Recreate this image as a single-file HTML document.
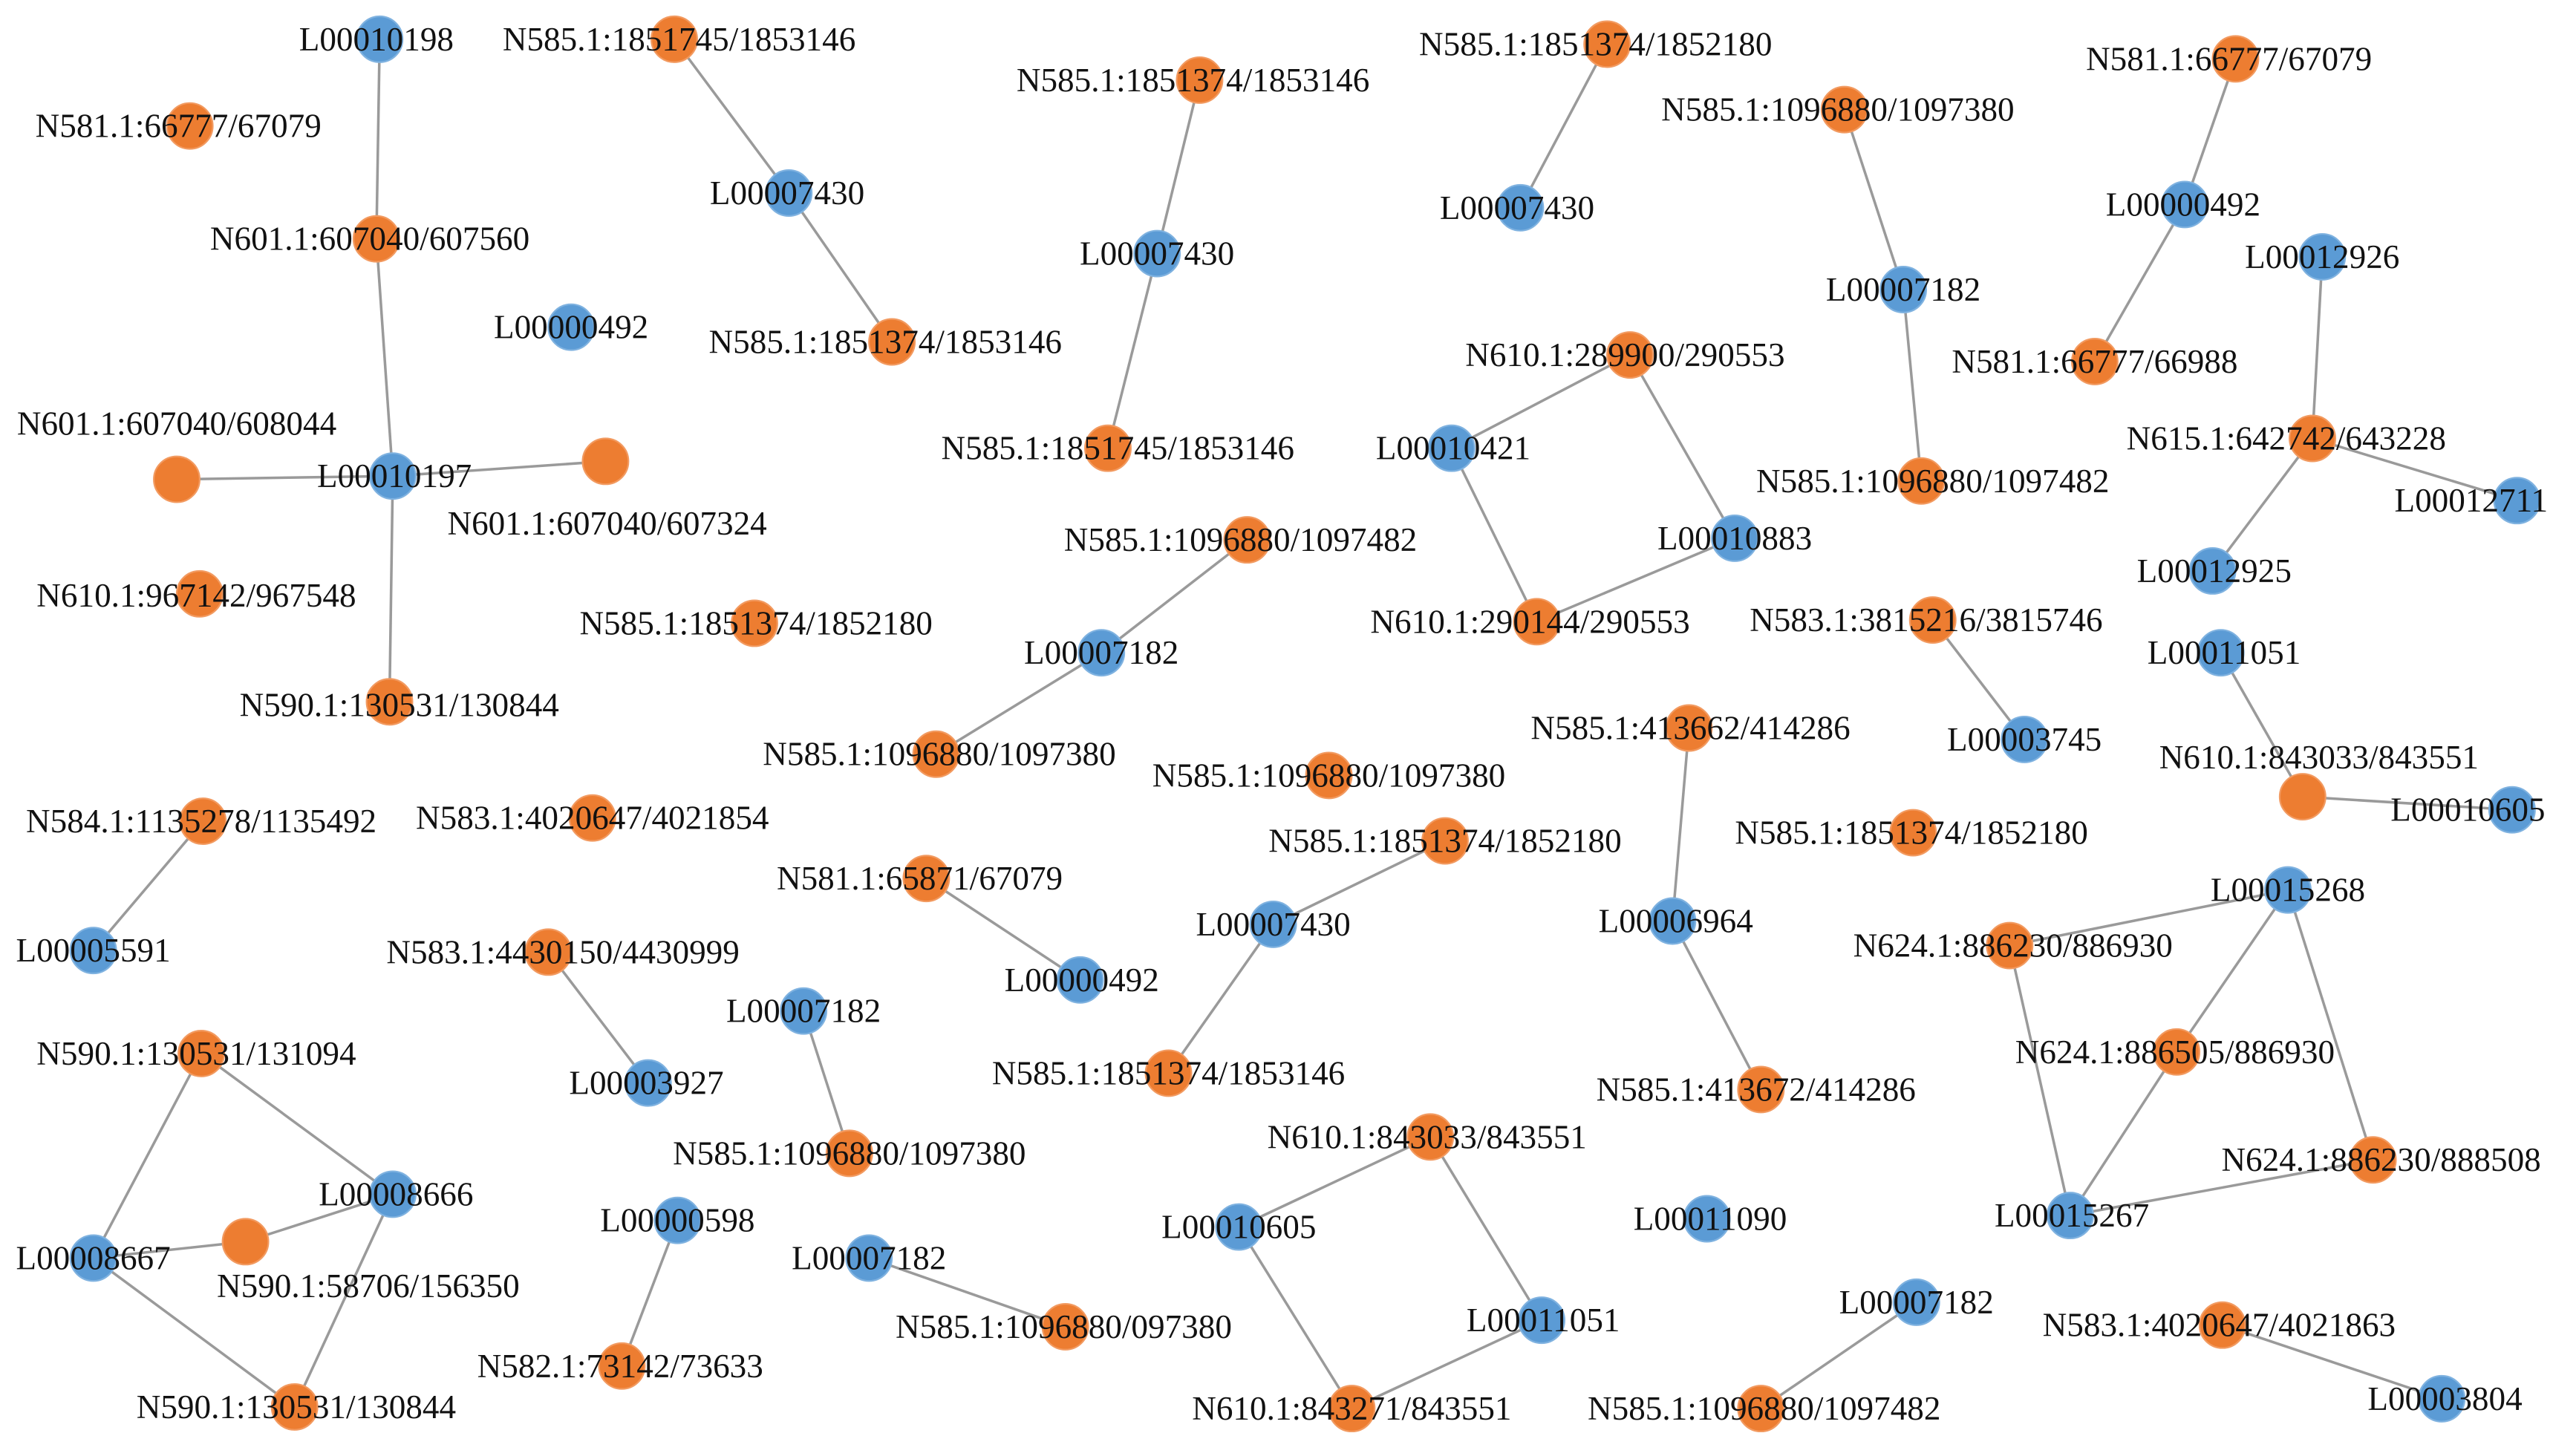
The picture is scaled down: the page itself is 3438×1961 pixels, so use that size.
<!DOCTYPE html>
<html><head><meta charset="utf-8"><style>
html,body{margin:0;padding:0;background:#fff;}
svg{display:block;}
text{font-family:"Liberation Serif",serif;font-size:20.5px;fill:#111;text-anchor:middle;dominant-baseline:central;}
.e{stroke:#9a9a9a;stroke-width:1.6;fill:none;}
.b{fill:#5b9bd5;stroke:#7fb2e0;stroke-width:1;}
.o{fill:#ed7d31;stroke:#f29a60;stroke-width:1;}
</style></head><body>
<svg width="3438" height="1961" viewBox="0 0 1560 890" preserveAspectRatio="none" xmlns="http://www.w3.org/2000/svg">
<g class="e">
<line x1="232" y1="24" x2="230" y2="146"/><line x1="230" y1="146" x2="240" y2="291"/>
<line x1="108" y1="293" x2="240" y2="291"/><line x1="240" y1="291" x2="370" y2="282"/>
<line x1="240" y1="291" x2="238" y2="429"/>
<line x1="412" y1="24" x2="482" y2="118"/><line x1="482" y1="118" x2="545" y2="209"/>
<line x1="733" y1="49" x2="707" y2="155"/><line x1="707" y1="155" x2="677" y2="274"/>
<line x1="982" y1="27" x2="929" y2="127"/>
<line x1="1127" y1="67" x2="1163" y2="177"/><line x1="1163" y1="177" x2="1174" y2="294"/>
<line x1="1366" y1="36" x2="1335" y2="125"/><line x1="1335" y1="125" x2="1280" y2="221"/>
<line x1="1419" y1="157" x2="1413" y2="268"/><line x1="1413" y1="268" x2="1538" y2="306"/><line x1="1413" y1="268" x2="1352" y2="349"/>
<line x1="996" y1="217" x2="887" y2="274"/><line x1="996" y1="217" x2="1060" y2="329"/><line x1="887" y1="274" x2="939" y2="380"/><line x1="939" y1="380" x2="1060" y2="329"/>
<line x1="762" y1="330" x2="673" y2="399"/><line x1="673" y1="399" x2="572" y2="461"/>
<line x1="1181" y1="379" x2="1237" y2="452"/>
<line x1="1357" y1="399" x2="1407" y2="487"/><line x1="1407" y1="487" x2="1535" y2="495"/>
<line x1="1032" y1="445" x2="1022" y2="563"/><line x1="1022" y1="563" x2="1076" y2="666"/>
<line x1="124" y1="502" x2="57" y2="581"/>
<line x1="566" y1="537" x2="660" y2="599"/>
<line x1="883" y1="514" x2="778" y2="565"/><line x1="778" y1="565" x2="714" y2="656"/>
<line x1="335" y1="582" x2="396" y2="662"/>
<line x1="491" y1="618" x2="519" y2="705"/>
<line x1="1398" y1="544" x2="1228" y2="578"/><line x1="1398" y1="544" x2="1330" y2="643"/><line x1="1398" y1="544" x2="1450" y2="709"/>
<line x1="1228" y1="578" x2="1265" y2="743"/><line x1="1330" y1="643" x2="1265" y2="743"/><line x1="1265" y1="743" x2="1450" y2="709"/>
<line x1="123" y1="644" x2="240" y2="730"/><line x1="123" y1="644" x2="57" y2="769"/><line x1="150" y1="759" x2="240" y2="730"/>
<line x1="57" y1="769" x2="180" y2="860"/><line x1="240" y1="730" x2="180" y2="860"/><line x1="57" y1="769" x2="150" y2="759"/>
<line x1="414" y1="746" x2="380" y2="835"/>
<line x1="531" y1="769" x2="651" y2="811"/>
<line x1="874" y1="695" x2="757" y2="750"/><line x1="874" y1="695" x2="942" y2="807"/><line x1="757" y1="750" x2="826" y2="861"/><line x1="826" y1="861" x2="942" y2="807"/>
<line x1="1171" y1="796" x2="1076" y2="861"/>
<line x1="1358" y1="810" x2="1492" y2="855"/>
</g>
<g>
<circle class="b" cx="232" cy="24" r="14"/><circle class="o" cx="116" cy="77" r="14"/><circle class="o" cx="230" cy="146" r="14"/>
<circle class="b" cx="240" cy="291" r="14"/><circle class="o" cx="108" cy="293" r="14"/><circle class="o" cx="370" cy="282" r="14"/>
<circle class="o" cx="122" cy="363" r="14"/><circle class="o" cx="238" cy="429" r="14"/>
<circle class="o" cx="412" cy="24" r="14"/><circle class="b" cx="482" cy="118" r="14"/><circle class="o" cx="545" cy="209" r="14"/>
<circle class="b" cx="349" cy="200" r="14"/>
<circle class="o" cx="733" cy="49" r="14"/><circle class="b" cx="707" cy="155" r="14"/><circle class="o" cx="677" cy="274" r="14"/>
<circle class="o" cx="982" cy="27" r="14"/><circle class="b" cx="929" cy="127" r="14"/>
<circle class="o" cx="1127" cy="67" r="14"/><circle class="b" cx="1163" cy="177" r="14"/><circle class="o" cx="1174" cy="294" r="14"/>
<circle class="o" cx="1366" cy="36" r="14"/><circle class="b" cx="1335" cy="125" r="14"/><circle class="o" cx="1280" cy="221" r="14"/>
<circle class="b" cx="1419" cy="157" r="14"/><circle class="o" cx="1413" cy="268" r="14"/><circle class="b" cx="1538" cy="306" r="14"/><circle class="b" cx="1352" cy="349" r="14"/>
<circle class="o" cx="996" cy="217" r="14"/><circle class="b" cx="887" cy="274" r="14"/><circle class="b" cx="1060" cy="329" r="14"/><circle class="o" cx="939" cy="380" r="14"/>
<circle class="o" cx="762" cy="330" r="14"/><circle class="b" cx="673" cy="399" r="14"/><circle class="o" cx="572" cy="461" r="14"/>
<circle class="o" cx="461" cy="381" r="14"/>
<circle class="o" cx="1181" cy="379" r="14"/><circle class="b" cx="1237" cy="452" r="14"/>
<circle class="b" cx="1357" cy="399" r="14"/><circle class="o" cx="1407" cy="487" r="14"/><circle class="b" cx="1535" cy="495" r="14"/>
<circle class="o" cx="1032" cy="445" r="14"/><circle class="b" cx="1022" cy="563" r="14"/><circle class="o" cx="1076" cy="666" r="14"/>
<circle class="o" cx="812" cy="474" r="14"/><circle class="o" cx="1169" cy="509" r="14"/>
<circle class="o" cx="124" cy="502" r="14"/><circle class="b" cx="57" cy="581" r="14"/>
<circle class="o" cx="362" cy="500" r="14"/>
<circle class="o" cx="566" cy="537" r="14"/><circle class="b" cx="660" cy="599" r="14"/>
<circle class="o" cx="883" cy="514" r="14"/><circle class="b" cx="778" cy="565" r="14"/><circle class="o" cx="714" cy="656" r="14"/>
<circle class="o" cx="335" cy="582" r="14"/><circle class="b" cx="396" cy="662" r="14"/>
<circle class="b" cx="491" cy="618" r="14"/><circle class="o" cx="519" cy="705" r="14"/>
<circle class="b" cx="1398" cy="544" r="14"/><circle class="o" cx="1228" cy="578" r="14"/><circle class="o" cx="1330" cy="643" r="14"/><circle class="o" cx="1450" cy="709" r="14"/><circle class="b" cx="1265" cy="743" r="14"/>
<circle class="o" cx="123" cy="644" r="14"/><circle class="b" cx="240" cy="730" r="14"/><circle class="b" cx="57" cy="769" r="14"/><circle class="o" cx="150" cy="759" r="14"/><circle class="o" cx="180" cy="860" r="14"/>
<circle class="b" cx="414" cy="746" r="14"/><circle class="o" cx="380" cy="835" r="14"/>
<circle class="b" cx="531" cy="769" r="14"/><circle class="o" cx="651" cy="811" r="14"/>
<circle class="o" cx="874" cy="695" r="14"/><circle class="b" cx="757" cy="750" r="14"/><circle class="b" cx="942" cy="807" r="14"/><circle class="o" cx="826" cy="861" r="14"/>
<circle class="b" cx="1043" cy="745" r="14"/>
<circle class="b" cx="1171" cy="796" r="14"/><circle class="o" cx="1076" cy="861" r="14"/>
<circle class="o" cx="1358" cy="810" r="14"/><circle class="b" cx="1492" cy="855" r="14"/>
</g>
<g>
<text x="230" y="24">L00010198</text>
<text x="109" y="77">N581.1:66777/67079</text>
<text x="226" y="146">N601.1:607040/607560</text>
<text x="241" y="291">L00010197</text>
<text x="108" y="259">N601.1:607040/608044</text>
<text x="371" y="320">N601.1:607040/607324</text>
<text x="120" y="364">N610.1:967142/967548</text>
<text x="244" y="431">N590.1:130531/130844</text>
<text x="415" y="24">N585.1:1851745/1853146</text>
<text x="481" y="118">L00007430</text>
<text x="541" y="209">N585.1:1851374/1853146</text>
<text x="349" y="200">L00000492</text>
<text x="729" y="49">N585.1:1851374/1853146</text>
<text x="707" y="155">L00007430</text>
<text x="683" y="274">N585.1:1851745/1853146</text>
<text x="975" y="27">N585.1:1851374/1852180</text>
<text x="927" y="127">L00007430</text>
<text x="1123" y="67">N585.1:1096880/1097380</text>
<text x="1163" y="177">L00007182</text>
<text x="1181" y="294">N585.1:1096880/1097482</text>
<text x="1362" y="36">N581.1:66777/67079</text>
<text x="1334" y="125">L00000492</text>
<text x="1280" y="221">N581.1:66777/66988</text>
<text x="1419" y="157">L00012926</text>
<text x="1397" y="268">N615.1:642742/643228</text>
<text x="1510" y="306">L00012711</text>
<text x="1353" y="349">L00012925</text>
<text x="993" y="217">N610.1:289900/290553</text>
<text x="888" y="274">L00010421</text>
<text x="1060" y="329">L00010883</text>
<text x="935" y="380">N610.1:290144/290553</text>
<text x="758" y="330">N585.1:1096880/1097482</text>
<text x="673" y="399">L00007182</text>
<text x="574" y="461">N585.1:1096880/1097380</text>
<text x="462" y="381">N585.1:1851374/1852180</text>
<text x="1177" y="379">N583.1:3815216/3815746</text>
<text x="1237" y="452">L00003745</text>
<text x="1359" y="399">L00011051</text>
<text x="1417" y="463">N610.1:843033/843551</text>
<text x="1508" y="495">L00010605</text>
<text x="1033" y="445">N585.1:413662/414286</text>
<text x="1024" y="563">L00006964</text>
<text x="1073" y="666">N585.1:413672/414286</text>
<text x="812" y="474">N585.1:1096880/1097380</text>
<text x="1168" y="509">N585.1:1851374/1852180</text>
<text x="123" y="502">N584.1:1135278/1135492</text>
<text x="57" y="581">L00005591</text>
<text x="362" y="500">N583.1:4020647/4021854</text>
<text x="562" y="537">N581.1:65871/67079</text>
<text x="661" y="599">L00000492</text>
<text x="883" y="514">N585.1:1851374/1852180</text>
<text x="778" y="565">L00007430</text>
<text x="714" y="656">N585.1:1851374/1853146</text>
<text x="344" y="582">N583.1:4430150/4430999</text>
<text x="395" y="662">L00003927</text>
<text x="491" y="618">L00007182</text>
<text x="519" y="705">N585.1:1096880/1097380</text>
<text x="1398" y="544">L00015268</text>
<text x="1230" y="578">N624.1:886230/886930</text>
<text x="1329" y="643">N624.1:886505/886930</text>
<text x="1455" y="709">N624.1:886230/888508</text>
<text x="1266" y="743">L00015267</text>
<text x="120" y="644">N590.1:130531/131094</text>
<text x="242" y="730">L00008666</text>
<text x="57" y="769">L00008667</text>
<text x="225" y="786">N590.1:58706/156350</text>
<text x="181" y="860">N590.1:130531/130844</text>
<text x="414" y="746">L00000598</text>
<text x="379" y="835">N582.1:73142/73633</text>
<text x="531" y="769">L00007182</text>
<text x="650" y="811">N585.1:1096880/097380</text>
<text x="872" y="695">N610.1:843033/843551</text>
<text x="757" y="750">L00010605</text>
<text x="943" y="807">L00011051</text>
<text x="826" y="861">N610.1:843271/843551</text>
<text x="1045" y="745">L00011090</text>
<text x="1171" y="796">L00007182</text>
<text x="1078" y="861">N585.1:1096880/1097482</text>
<text x="1356" y="810">N583.1:4020647/4021863</text>
<text x="1494" y="855">L00003804</text>
</g>
</svg>
</body></html>
